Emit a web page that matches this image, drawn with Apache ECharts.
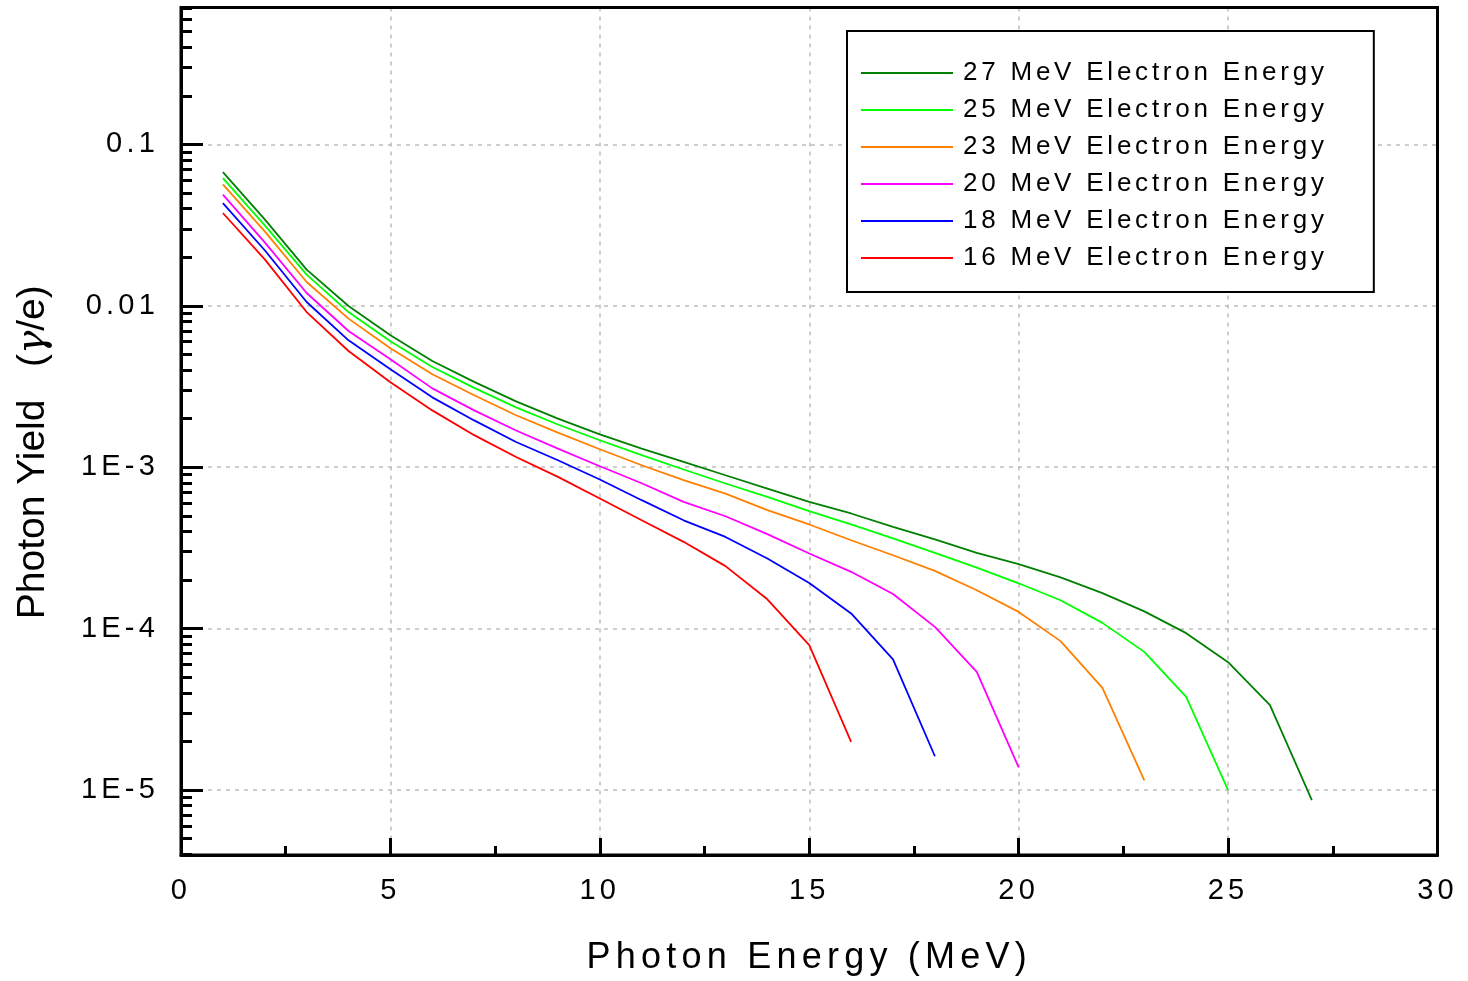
<!DOCTYPE html>
<html>
<head>
<meta charset="utf-8">
<script src="https://cdn.jsdelivr.net/npm/echarts@6/dist/echarts.min.js"></script>
<style>
html,body{margin:0;padding:0;background:#fff;}
#chart{width:1468px;height:981px;}
</style>
</head>
<body>
<div id="chart"></div>
<script>
// ---------------- data ----------------
const energies = [1,2,3,4,5,6,7,8,9,10,11,12,13,14,15,16,17,18,19,20,21,22,23,24,25,26,27];

const seriesNames = [
  '27 MeV Electron Energy',
  '25 MeV Electron Energy',
  '23 MeV Electron Energy',
  '20 MeV Electron Energy',
  '18 MeV Electron Energy',
  '16 MeV Electron Energy'
];
const seriesColors = ['#008000', '#00ff00', '#ff8000', '#ff00ff', '#0000ff', '#ff0000'];

const yield27 = [0.0674, 0.0343, 0.01675, 0.00997, 0.00657, 0.00455, 0.00338, 0.00256, 0.00200, 0.00160,
                 0.001305, 0.001078, 0.000892, 0.000738, 0.000610, 0.000517, 0.000427, 0.000357, 0.000295, 0.000251,
                 0.000208, 0.000166, 0.000128, 0.0000938, 0.0000620, 0.0000336, 0.00000867];
const yield25 = [0.0618, 0.0315, 0.0156, 0.00915, 0.00603, 0.00418, 0.00310, 0.00235, 0.00184, 0.00147,
                 0.001187, 0.000968, 0.000793, 0.000655, 0.000534, 0.000442, 0.000362, 0.000295, 0.000239, 0.000191,
                 0.000150, 0.0001086, 0.0000718, 0.0000378, 0.0000100];
const yield23 = [0.0565, 0.0289, 0.01404, 0.00833, 0.00546, 0.00377, 0.00279, 0.00210, 0.00164, 0.001292,
                 0.001029, 0.000831, 0.000687, 0.000542, 0.000442, 0.000353, 0.000285, 0.000228, 0.000173, 0.000127,
                 0.0000837, 0.0000430, 0.0000115];
const yield20 = [0.0488, 0.0247, 0.0120, 0.00698, 0.00466, 0.00308, 0.00225, 0.00169, 0.001305, 0.001014,
                 0.000796, 0.000610, 0.000497, 0.000385, 0.000292, 0.000225, 0.000164, 0.0001026, 0.0000540, 0.0000138];
const yield18 = [0.0433, 0.0221, 0.01056, 0.00611, 0.00404, 0.00271, 0.00195, 0.001434, 0.001105, 0.000839,
                 0.000625, 0.000469, 0.000370, 0.000272, 0.000192, 0.0001242, 0.0000645, 0.0000162];
const yield16 = [0.0376, 0.0194, 0.00915, 0.00525, 0.00336, 0.00225, 0.00158, 0.001158, 0.000871, 0.000640,
                 0.000469, 0.000345, 0.000244, 0.000152, 0.0000790, 0.0000199];

const seriesValues = [yield27, yield25, yield23, yield20, yield18, yield16];

const yTickValues = [1e-5, 1e-4, 1e-3, 1e-2, 1e-1];
const yTickLabels = ['1E-5', '1E-4', '1E-3', '0.01', '0.1'];
const yMinorMantissas = [2, 3, 4, 5, 6, 7, 8, 9];
const yMinorDecades = [1e-6, 1e-5, 1e-4, 1e-3, 1e-2, 1e-1];

// ---------------- styling ----------------
const FONT = "'Liberation Sans', Arial, Helvetica, sans-serif";
const Y_MIN = 3.96e-6;
const Y_MAX = 0.705;

// the original figure's horizontal text is drawn wide; emulate with letter spacing
const _origFillText = CanvasRenderingContext2D.prototype.fillText;
CanvasRenderingContext2D.prototype.fillText = function () {
  try {
    const m = /(\d+(?:\.\d+)?)px/.exec(this.font);
    const fs = m ? parseFloat(m[1]) : 12;
    const t = this.getTransform();
    const rotated = Math.abs(t.b) > 1e-6 || Math.abs(t.c) > 1e-6;
    this.letterSpacing = rotated ? '0px' : (fs * 0.145).toFixed(2) + 'px';
  } catch (e) {}
  return _origFillText.apply(this, arguments);
};

const minorTickPositions = [];
yMinorDecades.forEach(d => {
  yMinorMantissas.forEach(m => {
    const v = m * d;
    if (v >= Y_MIN && v <= Y_MAX) minorTickPositions.push(Math.log10(v));
  });
});

const gridLine = { show: true, lineStyle: { color: '#bdbdbd', width: 1.5, type: [4, 5] } };
const blackLine = { color: '#000', width: 3 };

const chart = echarts.init(document.getElementById('chart'), null, { renderer: 'canvas' });

const series = seriesNames.map((name, i) => ({
  name: name,
  type: 'line',
  symbol: 'none',
  showSymbol: false,
  clip: true,
  color: seriesColors[i],
  lineStyle: { color: seriesColors[i], width: 1.8 },
  data: seriesValues[i].map((v, j) => [energies[j], v]),
  z: 2
}));

chart.setOption({
  animation: false,
  backgroundColor: '#fff',
  textStyle: { fontFamily: FONT },
  grid: {
    left: 181, right: 30.5, top: 7.5, bottom: 126,
    show: true, borderColor: '#000', borderWidth: 3, backgroundColor: 'transparent',
    z: 3
  },
  legend: {
    orient: 'vertical',
    left: 847, top: 31,
    padding: [29, 129, 21, 14],
    itemGap: 11,
    itemWidth: 92,
    itemHeight: 2,
    icon: 'rect',
    backgroundColor: '#fff',
    borderColor: '#000',
    borderWidth: 2,
    textStyle: { fontSize: 26, color: '#000', fontFamily: FONT, padding: [0, 0, 0, 5] },
    data: seriesNames,
    z: 20
  },
  xAxis: {
    type: 'value',
    min: 0, max: 30, interval: 5,
    axisLine: { show: true, lineStyle: blackLine },
    axisTick: { show: true, inside: true, length: 17, lineStyle: blackLine },
    minorTick: { show: true, splitNumber: 2, length: 9, lineStyle: blackLine },
    splitLine: gridLine,
    axisLabel: { fontSize: 29, color: '#000', margin: 21, fontFamily: FONT },
    name: 'Photon Energy (MeV)',
    nameLocation: 'middle',
    nameGap: 85,
    nameTextStyle: { fontSize: 36, color: '#000', fontFamily: FONT }
  },
  yAxis: [
    {
      type: 'log',
      logBase: 10,
      min: Y_MIN, max: Y_MAX,
      axisLine: { show: true, lineStyle: blackLine },
      axisTick: { show: true, inside: true, length: 22, lineStyle: blackLine },
      splitLine: gridLine,
      axisLabel: {
        fontSize: 29, color: '#000', margin: 22, fontFamily: FONT,
        formatter: function (v) {
          const lv = Math.log10(v);
          for (let k = 0; k < yTickValues.length; k++) {
            if (Math.abs(lv - Math.log10(yTickValues[k])) < 0.01) return yTickLabels[k];
          }
          return '';
        }
      },
      name: 'Photon Yield   ({g|γ}/e)',
      nameLocation: 'middle',
      nameRotate: 90,
      nameGap: 128,
      nameTextStyle: {
        fontSize: 39, color: '#000', fontFamily: FONT, padding: [0, 42, 0, 0],
        rich: { g: { fontSize: 39, color: '#000', fontFamily: "'DejaVu Serif', serif", fontStyle: 'italic' } }
      }
    },
    {
      type: 'value',
      min: Math.log10(Y_MIN), max: Math.log10(Y_MAX),
      position: 'left',
      offset: 0,
      axisLine: { show: false },
      axisLabel: { show: false },
      splitLine: { show: false },
      axisTick: { show: true, inside: true, length: 11, lineStyle: blackLine, customValues: minorTickPositions }
    }
  ],
  series: series
});
</script>
</body>
</html>
